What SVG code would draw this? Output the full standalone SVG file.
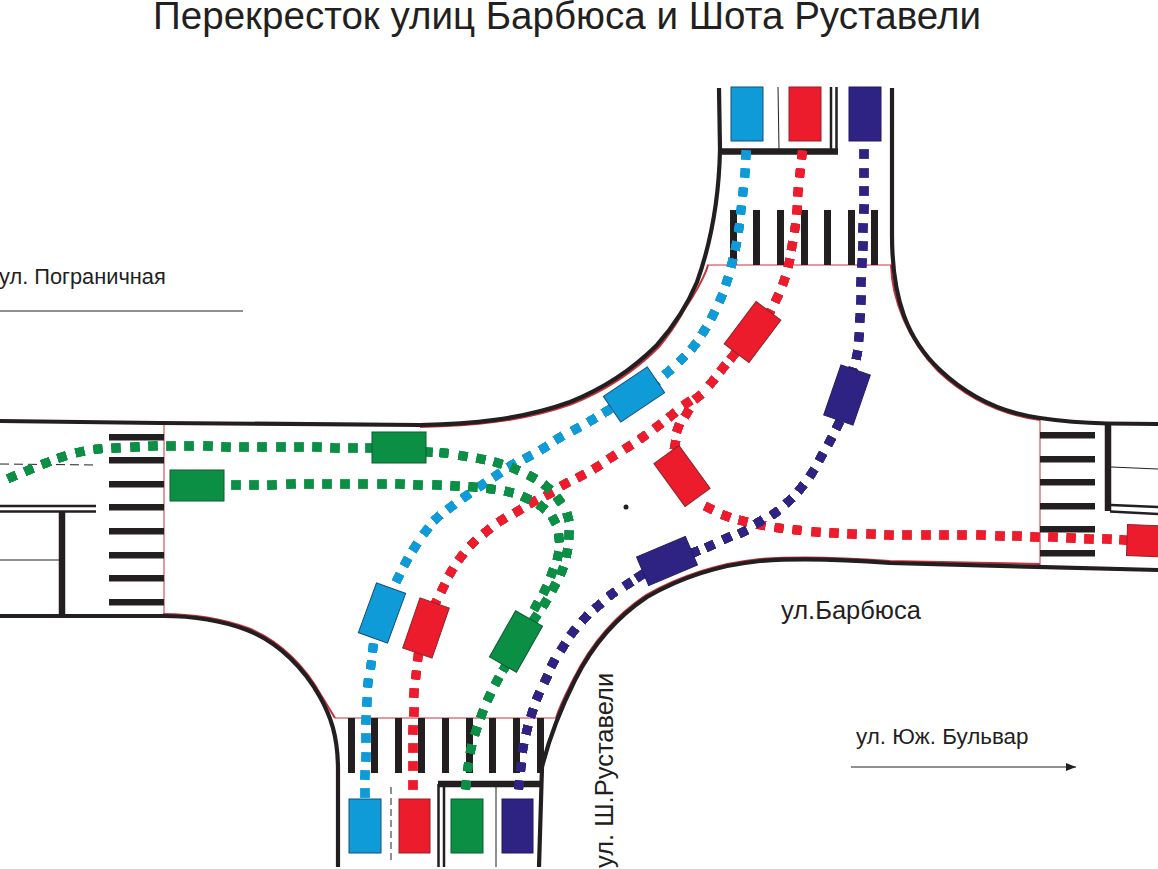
<svg xmlns="http://www.w3.org/2000/svg" width="1158" height="869" viewBox="0 0 1158 869">
<style>
text{font-family:"Liberation Sans",Arial,sans-serif;fill:#231f20}
.road{fill:none;stroke:#231f20;stroke-width:4.2}
.rt{fill:none;stroke:#c8323c;stroke-width:1}
.rc{fill:none;stroke:#c8323c;stroke-width:2}
.bar{fill:#231f20}
.thin{stroke:#231f20;stroke-width:1;fill:none}
.mid{stroke:#231f20;stroke-width:2.500;fill:none}
.thick{stroke:#231f20;stroke-width:6.500;fill:none}
.d{fill:none;stroke:none}
.cb{marker:url(#db)}.cr{marker:url(#dr)}.cg{marker:url(#dg)}.cn{marker:url(#dn)}
.fb{fill:#0f9ad8;stroke:#174f78;stroke-width:1}.fr{fill:#ec1c2d;stroke:#8f2228;stroke-width:1}.fg{fill:#0b8f45;stroke:#0c5a30;stroke-width:1}.fn{fill:#2e2382;stroke:#231a60;stroke-width:1}
</style>
<defs>
<marker id="ah" markerWidth="11" markerHeight="8" refX="10" refY="4" orient="auto" markerUnits="userSpaceOnUse"><path d="M0 0L10 4L0 8z" fill="#231f20"/></marker>
<marker id="db" viewBox="0 0 10 10" markerWidth="9.800" markerHeight="9.800" refX="5" refY="5" orient="auto" markerUnits="userSpaceOnUse"><rect width="10" height="10" fill="#0f9ad8"/></marker>
<marker id="dr" viewBox="0 0 10 10" markerWidth="9.800" markerHeight="9.800" refX="5" refY="5" orient="auto" markerUnits="userSpaceOnUse"><rect width="10" height="10" fill="#ec1c2d"/></marker>
<marker id="dg" viewBox="0 0 10 10" markerWidth="9.800" markerHeight="9.800" refX="5" refY="5" orient="auto" markerUnits="userSpaceOnUse"><rect width="10" height="10" fill="#0b8f45"/></marker>
<marker id="dn" viewBox="0 0 10 10" markerWidth="9.800" markerHeight="9.800" refX="5" refY="5" orient="auto" markerUnits="userSpaceOnUse"><rect width="10" height="10" fill="#2e2382"/></marker>
</defs>
<rect width="1158" height="869" fill="#fff"/>
<g id="title"><text x="153" y="28.500" font-size="38.600">Перекресток улиц Барбюса и Шота Руставели</text></g>
<g id="roads">
<path class="rt" d="M164 423V615M707 265H892M335 718H556M1040 420V566"/>
<path class="rc" d="M708 265C703 283 690 300 682 314C673 330 668 336 659 347C632 374 602 392 572 404C522 422 470 426 420 427"/>
<path class="rc" d="M891 265C892 300 908 340 938 371C973 404 1010 416 1040 420"/>
<path class="rc" d="M1040 564L890 561C850 558 800 556 760 559C720 563 680 576 646 595C619 613 594 638 574 678C566 694 560 705 556 718"/>
<path class="rc" d="M163 614C190 614 220 618 248 628C281 641 306 668 321 695L335 718"/>
<path class="road" d="M719 88L720 150C719 195 712 240 697 282C687 306 672 328 657 345C630 372 600 390 570 402C520 420 470 424 420 425L160 423L0 421"/>
<path class="road" d="M892 88V235C892 300 908 340 940 370C975 403 1010 414 1040 418C1060 421 1085 423 1107 423.500L1158 424"/>
<path class="road" d="M1158 570L890 563C850 560 800 558 760 561C720 565 680 578 647 597C620 615 595 640 575 680C565 700 550 735 542 767L539 867"/>
<path class="road" d="M0 616H163C190 616 220 620 247 630C280 643 305 670 320 697C330 715 338 735 338 770V867"/>
</g>
<g id="crosswalks" class="bar">
<path d="M109 434h55v6.500h-55zM109 457h55v6.500h-55zM109 481h55v6.500h-55zM109 504h55v6.500h-55zM109 528h55v6.500h-55zM109 552h55v6.500h-55zM109 575h55v6.500h-55zM109 599h55v6.500h-55z"/>
<path d="M1040 432h55v6.500h-55zM1040 456h55v6.500h-55zM1040 479h55v6.500h-55zM1040 503h55v6.500h-55zM1040 526h55v6.500h-55zM1040 550h55v6.500h-55z"/>
<path d="M730 210h7v55h-7zM753 210h7v55h-7zM777 210h7v55h-7zM801 210h7v55h-7zM824 210h7v55h-7zM848 210h7v55h-7zM871 210h7v55h-7z"/>
<path d="M348 718h7v55h-7zM371 718h7v55h-7zM395 718h7v55h-7zM418 718h7v55h-7zM442 718h7v55h-7zM466 718h7v55h-7zM489 718h7v55h-7zM513 718h7v55h-7zM537 718h7v55h-7z"/>
</g>
<g id="markings">
<path class="thick" d="M722 151.500H838"/>
<path class="mid" d="M831 87V150M836.500 87V150"/><path class="thin" d="M778 87L779 149"/>
<path class="thick" d="M438 784H543"/>
<path class="mid" d="M438.500 784V867M444 784V867"/><path class="thin" d="M496 787V867"/>
<path d="M391 787V864" stroke="#231f20" stroke-width="1" stroke-dasharray="7 4" fill="none"/>
<path class="thick" d="M62 512V615"/>
<path class="mid" d="M0 506H96M0 511.500H96"/><path class="thin" d="M0 560H60"/>
<path d="M0 464L97 465" stroke="#231f20" stroke-width="1" stroke-dasharray="9 5" fill="none"/>
<path class="thick" d="M1108 423V511"/>
<path class="mid" d="M1111 505L1158 507M1110 511.500L1158 514"/><path class="thin" d="M1111 467L1158 469"/>
<path class="thin" d="M0 311H243"/>
<path d="M851 767H1076" class="thin" marker-end="url(#ah)"/>
</g>
<g id="connectors">
<polyline class="d cb" points="746,155 745,173 743,192 741,210 739,228 736,246 732,263 727,281 721,298 713,315 704,331 694,346 682,359 668,372 654,384"/>
<polyline class="d cb" points="607,411 592,420 576,429 559,438 544,448 528,457 512,465 497,475 482,485 466,496 451,507 437,518 426,531 415,547 406,562 398,578"/>
<polyline class="d cb" points="373,648 371,665 368,683 367,702 366,720 366,738 366,757 365,775 365,793"/>
<polyline class="d cr" points="802,155 800,173 798,192 797,210 795,228 792,246 789,263 784,281 777,298 769,314"/>
<polyline class="d cr" points="733,356 723,368 712,382 698,397 687,403 672,415 658,426 643,437 628,447 612,457 597,467 581,476 565,484 549,494 533,502 518,511 502,520 487,531 473,543 461,557 451,572 443,588 435,604"/>
<polyline class="d cr" points="687,413 678,428 675,445"/>
<polyline class="d cr" points="418,657 416,675 414,693 414,712 413,730 413,748 413,766 413,785"/>
<polyline class="d cr" points="709,508 726,516 743,521 761,525 779,528 797,530 816,532 834,533 852,534 871,534 889,535 907,535 926,535 944,535 962,535 981,535 1000,536 1017,536 1035,537 1053,537 1071,538 1089,539 1107,539 1124,540"/>
<polyline class="d cn" points="864,154 864,173 864,191 864,209 863,228 863,246 862,263 861,282 861,300 860,318 859,337 857,355 852,372"/>
<polyline class="d cn" points="838,425 830,441 821,457 812,473 801,488 789,501 775,513 759,522 743,532 727,538 710,546 695,552"/>
<polyline class="d cn" points="640,576 628,584 612,594 598,606 585,618 573,632 563,647 553,663 546,679 538,696 532,713 527,730 523,748 521,767 519,785"/>
<polyline class="d cg" points="12,477 29,470 46,463 62,457 80,452 98,449 116,448 135,447 153,446 171,446 189,446 208,446 226,447 244,447 262,447 281,447 299,447 317,447 335,448 353,448 370,448"/>
<polyline class="d cg" points="428,452 444,453 463,456 481,459 498,463 515,469 532,477 547,487 559,500 568,517 569,535 567,553 562,571 554,587 545,603 535,618"/>
<polyline class="d cg" points="236,485 254,485 272,485 291,484 309,484 327,484 345,484 363,484 382,484 400,484 418,485 437,485 455,486 473,487 491,489 509,492 526,498 542,507 554,520 559,538 558,556 552,573 545,590 536,606"/>
<polyline class="d cg" points="505,667 497,681 489,697 482,714 476,731 471,749 468,767 466,785"/>
</g>
<g id="car-top-blue"><rect class="fb" x="731" y="87" width="32" height="54"/></g>
<g id="car-top-red"><rect class="fr" x="789" y="87" width="32" height="54"/></g>
<g id="car-top-navy"><rect class="fn" x="849" y="87" width="32" height="54"/></g>
<g id="car-bottom-blue"><rect class="fb" x="349" y="799" width="32" height="54"/></g>
<g id="car-bottom-red"><rect class="fr" x="399" y="799" width="31" height="54"/></g>
<g id="car-bottom-green"><rect class="fg" x="451" y="799" width="32" height="54"/></g>
<g id="car-bottom-navy"><rect class="fn" x="502" y="799" width="31" height="54"/></g>
<g id="car-left-green"><rect class="fg" x="170" y="470" width="54" height="31"/></g>
<g id="car-mid-green"><rect class="fg" x="372" y="432" width="54" height="31"/></g>
<g id="car-right-red"><rect class="fr" x="-27" y="-15.500" width="54" height="31" transform="translate(1154 541) rotate(2)"/></g>
<g id="car-a"><rect class="fb" x="-26.500" y="-15.500" width="53" height="31" transform="translate(634 394.500) rotate(-34)"/></g>
<g id="car-b"><rect class="fr" x="-26.500" y="-15.500" width="53" height="31" transform="translate(752.500 332) rotate(-53)"/></g>
<g id="car-c"><rect class="fn" x="-26.500" y="-15.500" width="53" height="31" transform="translate(847 395) rotate(-71)"/></g>
<g id="car-d"><rect class="fr" x="-26.500" y="-15.500" width="53" height="31" transform="translate(682 476) rotate(54)"/></g>
<g id="car-e"><rect class="fn" x="-26.500" y="-15.500" width="53" height="31" transform="translate(667 561) rotate(-23)"/></g>
<g id="car-f"><rect class="fb" x="-26.500" y="-15.500" width="53" height="31" transform="translate(382 613) rotate(-70)"/></g>
<g id="car-g"><rect class="fr" x="-26.500" y="-15.500" width="53" height="31" transform="translate(426 628) rotate(-71)"/></g>
<g id="car-h"><rect class="fg" x="-26.500" y="-15.500" width="53" height="31" transform="translate(516 641.500) rotate(-60.500)"/></g>
<g id="labels">
<text x="-1" y="284" font-size="21.800">ул. Пограничная</text>
<text x="781" y="619" font-size="25.500">ул.Барбюса</text>
<text x="856" y="744" font-size="22.400">ул. Юж. Бульвар</text>
<text transform="translate(612.500 868) rotate(-90)" font-size="25.500">ул. Ш.Руставели</text>
<circle cx="626" cy="507" r="2.500" fill="#231f20"/>
</g>
</svg>
